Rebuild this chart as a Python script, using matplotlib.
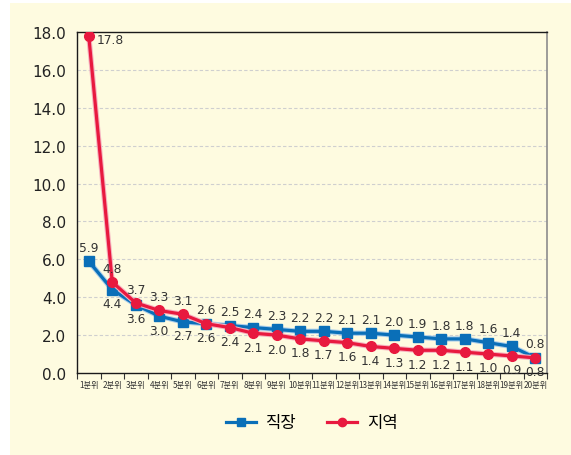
import matplotlib
matplotlib.use("Agg")
import matplotlib.pyplot as plt
from matplotlib.patches import Rectangle
from matplotlib.lines import Line2D
import numpy as np

plt.rcParams['font.family'] = ['Noto Sans CJK KR', 'DejaVu Sans']

categories = [f"{i}분위" for i in range(1, 21)]
jikjang = [5.9, 4.4, 3.6, 3.0, 2.7, 2.6, 2.5, 2.4, 2.3, 2.2, 2.2, 2.1, 2.1, 2.0, 1.9, 1.8, 1.8, 1.6, 1.4, 0.8]
jiyeok = [17.8, 4.8, 3.7, 3.3, 3.1, 2.6, 2.4, 2.1, 2.0, 1.8, 1.7, 1.6, 1.4, 1.3, 1.2, 1.2, 1.1, 1.0, 0.9, 0.8]
series_names = ["직장", "지역"]
yticks = [0, 2, 4, 6, 8, 10, 12, 14, 16, 18]

BLUE = "#0A6FB8"
RED = "#E8193F"
CREAM = "#FEFBE0"

fig = plt.figure(figsize=(5.71, 4.56), dpi=100, facecolor="white")
fig.patches.append(Rectangle((10/571, 0), 1 - 10/571, 1 - 4/456, transform=fig.transFigure,
                             facecolor=CREAM, edgecolor="none", zorder=-10))

ax = fig.add_axes([77/571, 1 - 374/456, (547 - 77)/571, (374 - 33)/456])
ax.set_facecolor(CREAM)

x = np.arange(len(categories))
# soft halo under each line
ax.plot(x, jikjang, color="#A9CDEA", lw=3.8, zorder=2.5, solid_capstyle="round")
ax.plot(x, jiyeok, color="#F6B3C0", lw=3.8, zorder=3.5, solid_capstyle="round")
ax.plot(x, jikjang, color=BLUE, lw=2.3, marker="s", ms=6.8, zorder=3, label=series_names[0])
ax.plot(x, jiyeok, color=RED, lw=2.3, marker="o", ms=7, zorder=4, label=series_names[1])

ax.set_xlim(-0.5, len(categories) - 0.5)
ax.set_ylim(0, 18)
ax.set_yticks(yticks)
ax.set_yticklabels([f"{v:.1f}" for v in yticks], fontsize=11, family="DejaVu Sans", color="#222222")
ax.tick_params(axis="y", length=0, pad=8)

ax.set_xticks(x)
ax.set_xticklabels(categories, fontsize=5.9, color="#333333")
ax.tick_params(axis="x", length=0, pad=5)
ax.set_xticks(np.arange(-0.5, len(categories), 1), minor=True)
ax.tick_params(axis="x", which="minor", length=4, width=0.8, color="#333333", direction="out")

for v in yticks[1:-1]:
    ax.axhline(v, color="#CFCFCF", lw=0.8, ls=(0, (3, 2)), zorder=1)

for s in ["left", "bottom", "top"]:
    ax.spines[s].set_color("#1a1a1a")
    ax.spines[s].set_linewidth(1.0)
ax.spines["right"].set_color("#8c8c8c")
ax.spines["right"].set_linewidth(1.2)

lab_kw = dict(fontsize=8.8, family="DejaVu Sans", color="#333333", ha="center", va="center",
              textcoords="offset points", zorder=5)
for i, (b, r) in enumerate(zip(jikjang, jiyeok)):
    if i == 0:
        ax.annotate(f"{b:.1f}", (i, b), xytext=(0, 10), **lab_kw)
        ax.annotate(f"{r:.1f}", (i, r), xytext=(6, -3), **{**lab_kw, "ha": "left"})
        continue
    if b >= r:
        ax.annotate(f"{b:.1f}", (i, b), xytext=(0, 10), **lab_kw)
        ax.annotate(f"{r:.1f}", (i, r), xytext=(0, -10), **lab_kw)
    else:
        ax.annotate(f"{r:.1f}", (i, r), xytext=(0, 10), **lab_kw)
        ax.annotate(f"{b:.1f}", (i, b), xytext=(0, -10), **lab_kw)

handles = [Line2D([], [], color=BLUE, lw=2.3, marker="s", ms=6),
           Line2D([], [], color=RED, lw=2.3, marker="o", ms=6)]
fig.legend(handles, series_names, loc="center", bbox_to_anchor=(312/571, 1 - 424/456),
           ncol=2, frameon=False, fontsize=12, handlelength=1.8, columnspacing=1.8,
           handletextpad=0.6)

fig.savefig("out.png", dpi=100, facecolor="white")
